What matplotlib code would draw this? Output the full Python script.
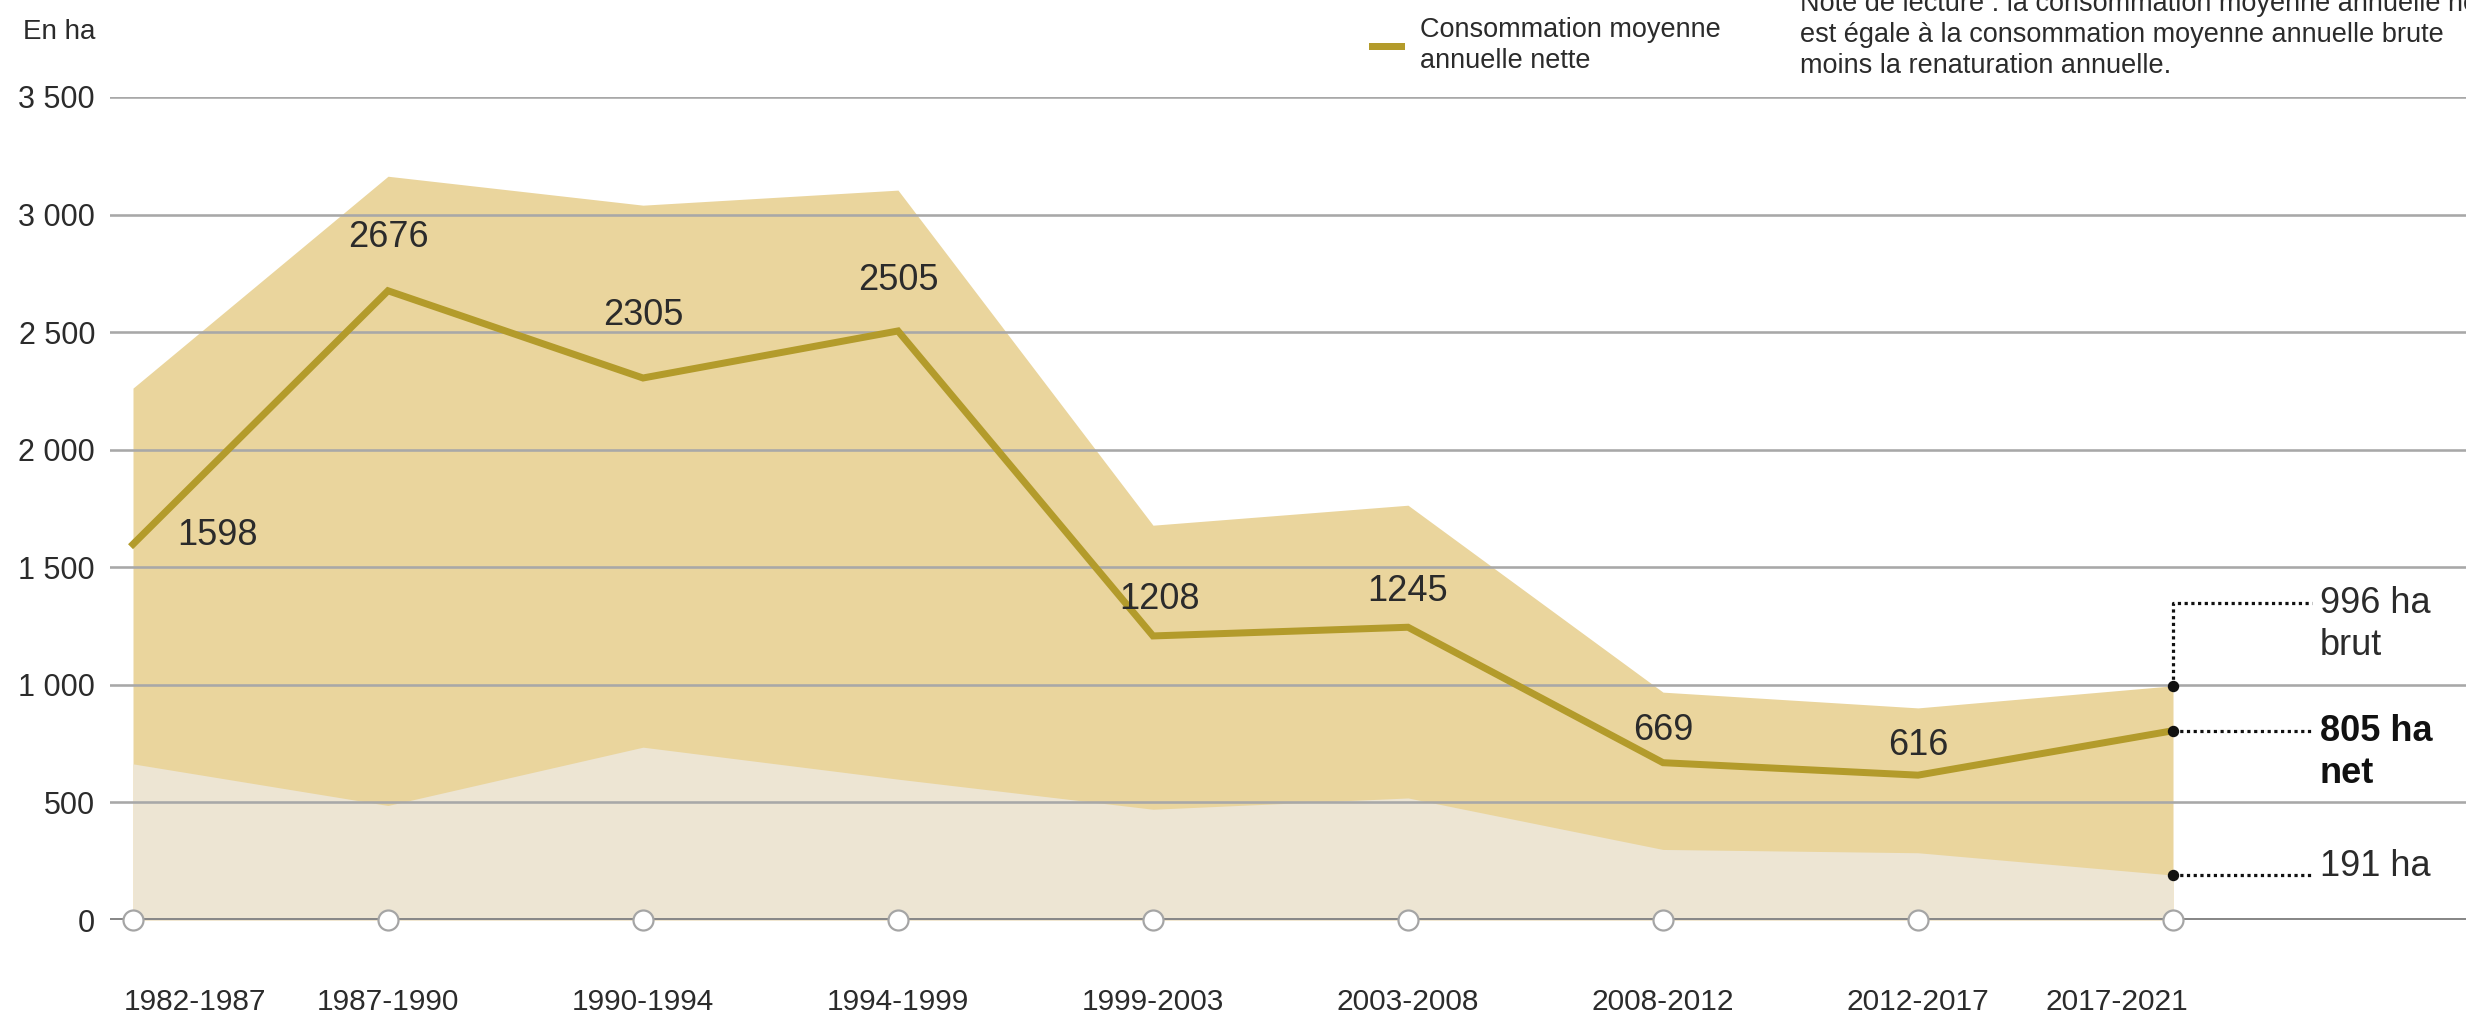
import matplotlib
matplotlib.use("Agg")
import matplotlib.pyplot as plt
import matplotlib.transforms as mtransforms
import numpy as np

# ---------------- data ----------------
periods = ["1982-1987", "1987-1990", "1990-1994", "1994-1999", "1999-2003",
           "2003-2008", "2008-2012", "2012-2017", "2017-2021"]
net = [1598, 2676, 2305, 2505, 1208, 1245, 669, 616, 805]
brut = [2262, 3163, 3040, 3104, 1679, 1764, 969, 902, 996]
renat = [664, 487, 735, 599, 471, 519, 300, 286, 191]
yticks = [0, 500, 1000, 1500, 2000, 2500, 3000, 3500]
ytick_labels = ["0", "500", "1 000", "1 500", "2 000", "2 500", "3 000", "3 500"]

# ---------------- style ----------------
W, H = 2466, 1017
DPI = 100
PX = 72.0 / DPI  # points per pixel

FONT = ["Liberation Sans", "DejaVu Sans"]
plt.rcParams["font.family"] = FONT

C_BRUT = "#ead59d"
C_RENAT = "#ede5d3"
C_LINE = "#b39b2b"
C_TEXT = "#2b2b2b"
C_GRID = "#a8a8a8"
C_ZERO = "#888888"

fig = plt.figure(figsize=(W / DPI, H / DPI), dpi=DPI)
x0_px, y0_px, ytop_px = 110, 920, 97
ax = fig.add_axes([x0_px / W, (H - y0_px) / H, (W - x0_px) / W, (y0_px - ytop_px) / H])

x = np.arange(len(periods))
first_px, step_px = 133, 255
ax.set_xlim(-(first_px - x0_px) / step_px,
            (len(periods) - 1) + (W - (first_px + step_px * (len(periods) - 1))) / step_px)
ax.set_ylim(0, 3500)

# areas
ax.fill_between(x, 0, brut, color=C_BRUT, lw=0, zorder=1)
ax.fill_between(x, 0, renat, color=C_RENAT, lw=0, zorder=2)

# gridlines
for v in yticks[1:]:
    ax.axhline(v, color=C_GRID, lw=2.6 * PX, zorder=3)
ax.axhline(0, color=C_ZERO, lw=4 * PX, zorder=3)

# net line
ax.plot(x, net, color=C_LINE, lw=7 * PX, zorder=5, solid_joinstyle="miter")

# circles on the zero line
ax.plot(x, [0] * len(x), "o", ms=20 * PX, mfc="white", mec="#a5a5a5",
        mew=2.2 * PX, clip_on=False, zorder=6)

# y ticks
ax.set_yticks(yticks, ytick_labels)
ax.set_xticks([])
ax.tick_params(axis="y", length=0, pad=15 * PX, labelsize=22, labelcolor=C_TEXT)
for s in ax.spines.values():
    s.set_visible(False)

# x labels
trans_x = mtransforms.blended_transform_factory(ax.transData, ax.transAxes)
label_shift_px = [62, 0, 0, 0, 0, 0, 0, 0, -56]
y_lab = (y0_px - 1002) / (y0_px - ytop_px)
for i, p in enumerate(periods):
    ax.text(x[i] + label_shift_px[i] / step_px, y_lab, p, transform=trans_x,
            ha="center", va="center", fontsize=21.5, color=C_TEXT)

# data labels
lab_dx_px = [85, 0, 0, 0, 6, 0, 0, 0]
lab_dy_px = [9, 53, 62, 50, 36, 36, 32, 30]
for i in range(len(net) - 1):
    ax.annotate(str(net[i]), (x[i], net[i]), xytext=(lab_dx_px[i] * PX, lab_dy_px[i] * PX),
                textcoords="offset points", ha="center", va="center",
                fontsize=26, color=C_TEXT, zorder=7)

# right annotations
xl = x[-1]
x_end = xl + (2312 - 2173) / step_px
x_txt = xl + (2320 - 2173) / step_px
dot_style = dict(color="#111111", lw=3.2 * PX, linestyle=(0, (1, 1.1)), zorder=7,
                 clip_on=False, dash_capstyle="butt")
top_v = 1348
ax.plot([xl, xl, x_end], [brut[-1], top_v, top_v], **dot_style)
ax.plot([xl, x_end], [net[-1], net[-1]], **dot_style)
ax.plot([xl, x_end], [renat[-1], renat[-1]], **dot_style)
ax.plot([xl, xl, xl], [brut[-1], net[-1], renat[-1]], "o", ms=10 * PX,
        color="#111111", zorder=8, clip_on=False)
line_gap = 42 / ((y0_px - ytop_px) / 3500)
kw = dict(ha="left", va="center", fontsize=26, color=C_TEXT, clip_on=False)
ax.text(x_txt, top_v, f"{brut[-1]} ha", **kw)
ax.text(x_txt, top_v - line_gap, "brut", **kw)
kwb = dict(kw, fontweight="bold", color="#111111")
ax.text(x_txt, net[-1] - 5, f"{net[-1]} ha", **kwb)
ax.text(x_txt, net[-1] - 5 - line_gap, "net", **kwb)
ax.text(x_txt, renat[-1] + 35, f"{renat[-1]} ha", **kw)

# top texts (figure pixel coordinates)
def fx(px):
    return px / W

def fy(py):
    return 1 - py / H

fig.text(fx(95), fy(32), "En ha", ha="right", va="center", fontsize=20, color=C_TEXT)
fig.lines.append(plt.Line2D([fx(1372), fx(1401)], [fy(46), fy(46)], color=C_LINE,
                            lw=7 * PX, transform=fig.transFigure))
fig.text(fx(1420), fy(30), "Consommation moyenne", ha="left", va="center",
         fontsize=19.5, color=C_TEXT)
fig.text(fx(1420), fy(61), "annuelle nette", ha="left", va="center",
         fontsize=19.5, color=C_TEXT)
note_lines = ["Note de lecture : la consommation moyenne annuelle nette",
              "est égale à la consommation moyenne annuelle brute",
              "moins la renaturation annuelle."]
for k, t in enumerate(note_lines):
    fig.text(fx(1800), fy(4 + 31 * k), t, ha="left", va="center",
             fontsize=19.5, color=C_TEXT)

fig.savefig("out.png", dpi=DPI, facecolor="white")
